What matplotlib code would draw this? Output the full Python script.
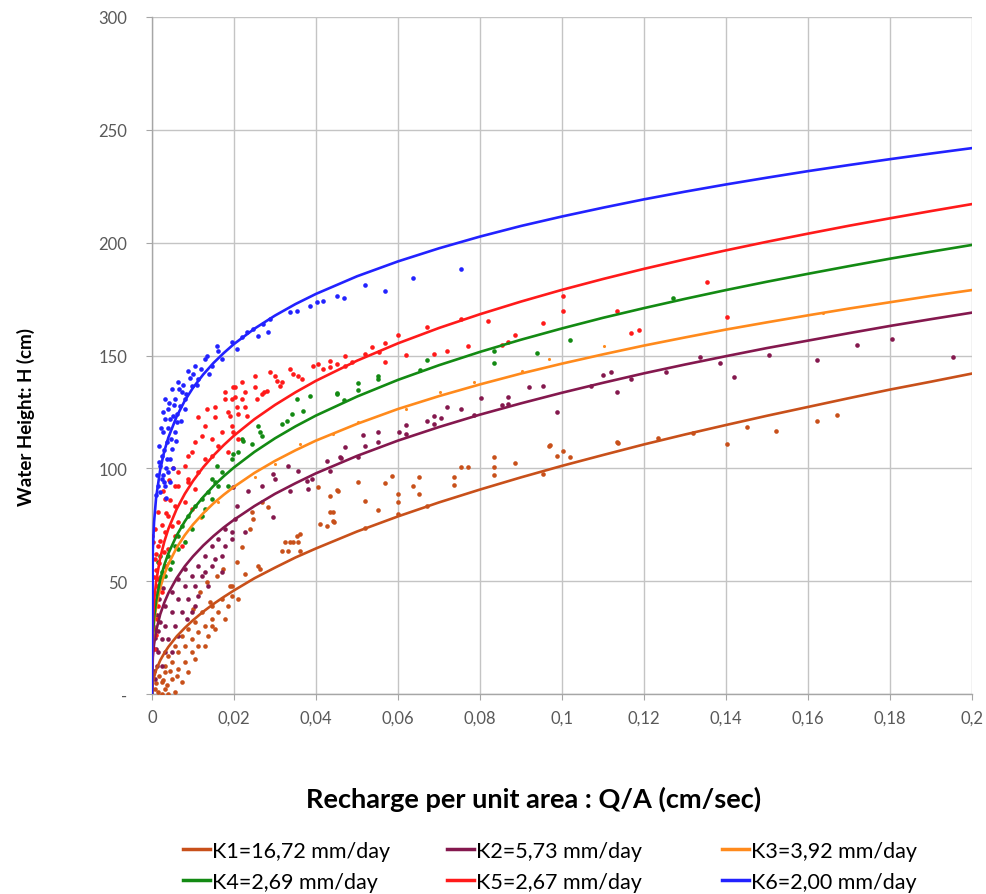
import matplotlib
matplotlib.use('Agg')
import matplotlib.pyplot as plt
from matplotlib.lines import Line2D

plt.rcParams['font.family'] = ['Lato', 'DejaVu Sans']

# series names and colours
labels = ['K1=16,72 mm/day', 'K2=5,73 mm/day', 'K3=3,92 mm/day',
          'K4=2,69 mm/day', 'K5=2,67 mm/day', 'K6=2,00 mm/day']
colors = ['#C8501A', '#84184E', '#FF8A1C', '#138A13', '#FF1A1A', '#2222FF']

# trend lines (power fits)
curve_x = [0, 0.0002, 0.0005, 0.001, 0.002, 0.003, 0.004, 0.006, 0.008, 0.01, 0.0125, 0.015,
           0.0175, 0.02, 0.025, 0.03, 0.035, 0.04, 0.05, 0.06, 0.07, 0.08, 0.09, 0.1, 0.11, 0.12,
           0.13, 0.14, 0.15, 0.16, 0.17, 0.18, 0.19, 0.2]
fit_k1 = [0, 4.8, 7.5, 10.6, 14.9, 18.1, 20.9, 25.5, 29.3, 32.7, 36.5, 39.9, 43.0, 45.9, 51.3, 56.0,
          60.5, 64.5, 72.0, 78.7, 84.9, 90.6, 96.0, 101.1, 105.9, 110.6, 115.0, 119.2, 123.3, 127.2,
          131.1, 134.9, 138.4, 142.0]
fit_k2 = [0, 16.2, 22.0, 27.9, 35.3, 40.5, 44.7, 51.3, 56.6, 61.0, 65.8, 70.0, 73.8, 77.2, 83.3, 88.7,
          93.4, 97.8, 105.5, 112.3, 118.3, 123.8, 128.8, 133.5, 137.9, 142.1, 146.0, 149.7, 153.3, 156.6,
          159.9, 163.1, 166.1, 169.0]
fit_k3 = [0, 24.2, 31.5, 38.5, 47.1, 53.0, 57.6, 64.8, 70.4, 75.1, 80.1, 84.5, 88.3, 91.8, 98.0, 103.3,
          108.0, 112.3, 119.7, 126.3, 132.0, 137.2, 142.0, 146.4, 150.5, 154.4, 158.0, 161.5, 164.7, 167.8,
          170.8, 173.6, 176.4, 179.0]
fit_k4 = [0, 25.6, 33.6, 41.2, 50.7, 57.2, 62.3, 70.2, 76.5, 81.8, 87.3, 92.2, 96.5, 100.4, 107.3, 113.3,
          118.6, 123.4, 131.8, 139.2, 145.7, 151.6, 157.0, 162.0, 166.7, 171.0, 175.1, 179.0, 182.7, 186.2,
          189.6, 192.9, 196.0, 199.0]
fit_k5 = [0, 31.8, 41.0, 49.8, 60.3, 67.5, 73.2, 81.9, 88.7, 94.4, 100.5, 105.7, 110.3, 114.5, 121.8, 128.1,
          133.7, 138.8, 147.7, 155.4, 162.2, 168.3, 173.9, 179.1, 183.9, 188.4, 192.6, 196.6, 200.4, 204.0,
          207.5, 210.8, 214.0, 217.1]
fit_k6 = [0, 63.8, 76.1, 87.0, 99.4, 107.6, 113.7, 122.9, 130.0, 135.7, 141.6, 146.7, 151.1, 155.1, 161.9,
          167.7, 172.8, 177.3, 185.1, 191.7, 197.5, 202.7, 207.4, 211.6, 215.5, 219.2, 222.6, 225.8, 228.8,
          231.7, 234.4, 237.0, 239.5, 241.9]

# measured points (Q/A, H)
k1_pts = [(0.0008, 2), (0.001, 5), (0.0018, 8), (0.0028, 6), (0.0036, 4), (0.0044, 10), (0.006, 8),
          (0.0015, 0.8), (0.0024, 0), (0.004, 0), (0.0024, 5.2), (0.0032, 2.2), (0.0056, 0.8),
          (0.0032, 9.6), (0.0048, 6.6), (0.0072, 5.2), (0.0048, 14.0), (0.004, 17.0), (0.0032, 12.5),
          (0.0064, 11.1), (0.0089, 9.6), (0.0064, 18.5), (0.0056, 21.4), (0.008, 14.0), (0.0105, 15.5),
          (0.008, 21.4), (0.0072, 25.8), (0.0097, 18.5), (0.0113, 21.4), (0.0129, 21.4), (0.0097, 24.4),
          (0.0089, 28.8), (0.0105, 31.8), (0.0113, 27.3), (0.0137, 25.8), (0.0154, 28.8), (0.0129, 30.3),
          (0.0146, 30.3), (0.0146, 33.2), (0.0121, 36.2), (0.0178, 33.2), (0.0162, 36.2), (0.0146, 39.1),
          (0.0186, 39.1), (0.017, 42.1), (0.021, 42.1), (0.0194, 43.6), (0.0101, 37.7), (0.0117, 45.0),
          (0.0141, 40.6), (0.0133, 49.5), (0.0158, 52.4), (0.0174, 55.4), (0.019, 48.0), (0.0194, 48.0),
          (0.0207, 58.4), (0.0219, 65.0), (0.0227, 53.2), (0.0239, 73.1), (0.0243, 80.5), (0.0247, 77.5),
          (0.0259, 56.8), (0.0263, 55.4), (0.0268, 84.9), (0.0284, 82.7), (0.0316, 63.5), (0.0324, 67.2),
          (0.0332, 63.5), (0.0337, 67.2), (0.0345, 67.2), (0.0353, 70.1), (0.0357, 67.2), (0.0361, 70.9),
          (0.0361, 63.5), (0.0406, 91.6), (0.041, 75.3), (0.0426, 74.6), (0.0434, 87.9), (0.0434, 80.5),
          (0.0442, 76.8), (0.0454, 90.1), (0.0441, 80.5), (0.0444, 76.3), (0.0452, 90.5), (0.0503, 93.8),
          (0.052, 85.6), (0.052, 73.4), (0.0552, 81.7), (0.0568, 93.5), (0.0585, 96.7), (0.0601, 88.6),
          (0.0601, 84.9), (0.0601, 79.8), (0.0636, 92.0), (0.0652, 96.3), (0.0652, 88.6), (0.067, 83.2),
          (0.0737, 96.0), (0.0737, 92.7), (0.0754, 100.7), (0.077, 100.7), (0.0835, 104.9), (0.0835, 100.4),
          (0.0835, 97.2), (0.0885, 102.3), (0.0954, 97.5), (0.0969, 110.0), (0.0971, 110.3), (0.0987, 105.3),
          (0.1003, 107.5), (0.102, 104.9), (0.1135, 111.5), (0.1136, 111.3), (0.1235, 113.3), (0.132, 115.5),
          (0.1403, 110.8), (0.1452, 118.3), (0.1521, 116.4), (0.1621, 120.8), (0.167, 123.8)]

k2_pts = [(0.0005, 10), (0.001, 20), (0.0015, 28), (0.002, 32), (0.0008, 25), (0.0012, 35), (0.0004, 40),
          (0.0003, 30), (0.0018, 42), (0.0028, 47),
          (0.0007, 6.6), (0.0011, 12.5), (0.0015, 18.5), (0.0024, 12.5), (0.0024, 24.4), (0.0032, 18.5),
          (0.0032, 30.3), (0.004, 24.4), (0.0048, 18.5), (0.0048, 36.2), (0.0032, 39.1), (0.0056, 30.3),
          (0.0064, 25.8), (0.0064, 42.1), (0.0048, 45.1), (0.0072, 36.2), (0.008, 48.0), (0.0085, 33.2),
          (0.0089, 42.1), (0.0064, 51.0), (0.0097, 52.4), (0.0097, 36.2), (0.008, 55.4), (0.0105, 48.0),
          (0.0105, 39.1), (0.0113, 56.8), (0.0113, 43.6), (0.0121, 52.4), (0.0129, 61.3), (0.0129, 53.9),
          (0.0137, 48.0), (0.0146, 65.7), (0.0146, 56.8), (0.0154, 59.8), (0.0162, 68.7), (0.017, 61.3),
          (0.017, 53.9), (0.0178, 73.1), (0.0178, 65.7), (0.0194, 68.7), (0.0202, 77.5), (0.0198, 91.6),
          (0.0194, 71.6), (0.0207, 83.4), (0.0227, 71.6), (0.0235, 90.1), (0.0268, 92.3), (0.0296, 97.5),
          (0.03, 95.3), (0.0296, 78.3), (0.0332, 101.2), (0.0337, 90.1), (0.0357, 98.9), (0.0377, 94.5),
          (0.0381, 90.8), (0.039, 95.3), (0.0426, 103.4), (0.0434, 98.9), (0.0459, 104.9), (0.0471, 109.3),
          (0.046, 104.4), (0.0503, 104.9), (0.0514, 114.8), (0.052, 110.0), (0.0552, 116.2), (0.0552, 111.5),
          (0.0603, 115.9), (0.062, 119.2), (0.062, 115.2), (0.067, 121.1), (0.0688, 123.3), (0.0688, 119.6),
          (0.0704, 122.1), (0.072, 127.3), (0.0754, 126.3), (0.0785, 123.6), (0.0802, 131.0), (0.0853, 128.2),
          (0.0869, 131.5), (0.0869, 128.5), (0.092, 135.9), (0.0953, 136.6), (0.0987, 125.1), (0.1071, 136.3),
          (0.1101, 141.3), (0.1119, 142.8), (0.1135, 133.7), (0.1168, 139.6), (0.1254, 142.8), (0.1337, 149.2),
          (0.1385, 146.7), (0.142, 140.6), (0.1505, 150.2), (0.1621, 147.8), (0.1719, 154.8), (0.1804, 157.3),
          (0.1953, 149.2)]

k3_pts = [(0.004, 58), (0.008, 68), (0.012, 78), (0.016, 85), (0.025, 96), (0.03, 102), (0.0361, 110.8),
          (0.0442, 115.2), (0.0503, 120.4), (0.062, 126.3), (0.0702, 133.9), (0.0785, 138.4), (0.0902, 143.2),
          (0.0969, 148.4), (0.1102, 154.3), (0.1636, 168.7)]

k4_pts = [(0.0015, 58.4), (0.002, 61.3), (0.0024, 53.9), (0.0032, 56.8), (0.0032, 52.4), (0.004, 61.3),
          (0.0044, 55.4), (0.0048, 58.4), (0.0056, 65.7), (0.0064, 70.1), (0.0064, 64.2), (0.0072, 74.6),
          (0.008, 67.2), (0.0089, 79.0), (0.0097, 73.1), (0.0105, 83.4), (0.0121, 86.4), (0.0121, 79.0),
          (0.0129, 82.0), (0.0137, 89.4), (0.0146, 86.4), (0.0146, 95.3), (0.0154, 93.8), (0.0158, 101.2),
          (0.0162, 92.3), (0.017, 98.2), (0.0186, 92.3), (0.0194, 104.1), (0.0198, 106.3), (0.021, 107.1),
          (0.0219, 113.0), (0.0223, 112.2), (0.0243, 110.8), (0.0259, 118.9), (0.0263, 115.9), (0.0268, 114.4),
          (0.0316, 119.6), (0.0329, 121.1), (0.0341, 124.1), (0.0353, 130.7), (0.0369, 125.5), (0.0385, 132.2),
          (0.045, 132.9), (0.0452, 133.4), (0.0468, 130.4), (0.0503, 137.8), (0.0503, 134.8), (0.0552, 140.8),
          (0.0552, 139.6), (0.0654, 143.7), (0.067, 148.1), (0.0835, 151.8), (0.0835, 146.7), (0.0938, 151.1),
          (0.102, 157.0), (0.127, 175.7)]

k5_pts = [(0.0005, 45), (0.001, 55), (0.001, 62), (0.002, 68), (0.0025, 75), (0.002, 52), (0.003, 63),
          (0.0035, 80), (0.0045, 86), (0.0005, 38), (0.0012, 48), (0.0018, 58), (0.0006, 20), (0.0009, 26),
          (0.0004, 52), (0.0028, 90), (0.0042, 95), (0.0052, 100),
          (0.0, 70.1), (0.0003, 67.2), (0.0007, 73.1), (0.0007, 59.8), (0.0007, 28.8), (0.0011, 33.2),
          (0.0015, 39.1), (0.0015, 51.0), (0.0015, 65.7), (0.0015, 80.5), (0.0024, 45.1), (0.0032, 56.8),
          (0.0032, 71.6), (0.0032, 86.4), (0.004, 64.2), (0.004, 79.0), (0.0048, 74.6), (0.0056, 70.1),
          (0.0056, 83.4), (0.0056, 92.3), (0.0064, 76.1), (0.0064, 92.3), (0.0064, 98.2), (0.0072, 65.7),
          (0.008, 84.9), (0.008, 101.2), (0.0089, 93.8), (0.0089, 95.3), (0.0089, 105.6), (0.0097, 82.0),
          (0.0097, 107.1), (0.0105, 90.8), (0.0105, 111.5), (0.0113, 98.2), (0.0113, 122.6), (0.0121, 114.4),
          (0.0129, 104.1), (0.0129, 118.9), (0.0133, 126.3), (0.0146, 105.6), (0.0146, 113.0), (0.0154, 122.6),
          (0.0154, 127.0), (0.0162, 110.0), (0.017, 115.9), (0.0178, 130.7), (0.0178, 133.7), (0.0186, 107.1),
          (0.0186, 124.8), (0.019, 123.3), (0.0194, 118.9), (0.0194, 130.7), (0.0198, 115.9), (0.0198, 135.9),
          (0.0202, 131.5), (0.0202, 135.9), (0.0207, 127.0), (0.021, 113.0), (0.021, 124.1), (0.0219, 130.7),
          (0.0219, 138.1), (0.0227, 133.7), (0.0227, 127.0), (0.0231, 123.3), (0.0251, 141.0), (0.0251, 135.9),
          (0.0255, 130.7), (0.0268, 132.9), (0.0272, 133.7), (0.028, 134.4), (0.0288, 142.5), (0.03, 141.0),
          (0.0304, 138.8), (0.0312, 136.6), (0.0316, 138.1), (0.0337, 144.0), (0.0345, 141.8), (0.0357, 141.0),
          (0.0365, 139.6), (0.0393, 145.5), (0.0406, 146.2), (0.0418, 144.0), (0.0434, 147.7), (0.0434, 144.7),
          (0.045, 146.2), (0.0471, 149.6), (0.0471, 145.5), (0.0487, 147.2), (0.052, 150.6), (0.0536, 153.6),
          (0.0554, 151.7), (0.0568, 155.5), (0.0568, 147.0), (0.0601, 159.1), (0.062, 150.3), (0.067, 162.5),
          (0.0688, 150.6), (0.0719, 151.8), (0.0754, 166.1), (0.077, 154.3), (0.082, 165.1), (0.0853, 154.6),
          (0.0869, 156.1), (0.0885, 159.1), (0.0953, 164.4), (0.1003, 176.2), (0.1003, 169.8), (0.1135, 169.8),
          (0.1168, 160.0), (0.1188, 161.4), (0.1353, 182.4), (0.1403, 166.9)]

k6_pts = [(0.001, 88), (0.0012, 97), (0.0015, 92), (0.0016, 103), (0.0018, 110), (0.002, 89.4),
          (0.002, 101.2), (0.0022, 118), (0.0024, 95.3), (0.0024, 105.6), (0.0026, 125), (0.0028, 115.9),
          (0.0028, 97), (0.003, 94), (0.003, 108), (0.0032, 92.3), (0.0032, 121.8), (0.0032, 130.7),
          (0.0034, 100), (0.0035, 87), (0.0036, 111.5), (0.0036, 104), (0.0038, 118), (0.004, 98.2),
          (0.004, 126.3), (0.0042, 129), (0.0044, 104.1), (0.0044, 122), (0.0045, 94), (0.0046, 113),
          (0.0048, 108.6), (0.0048, 135.1), (0.005, 100), (0.0052, 123.3), (0.0054, 128), (0.0056, 115.9),
          (0.0056, 130.7), (0.0058, 112), (0.006, 120.4), (0.0062, 124), (0.0064, 138.1), (0.0066, 135),
          (0.0068, 127.7), (0.007, 121), (0.0072, 133.7), (0.0076, 137), (0.008, 126.3), (0.008, 130.7),
          (0.0084, 133), (0.0089, 143.2), (0.0092, 140), (0.0097, 136.6), (0.01, 142), (0.0105, 145.5),
          (0.011, 137), (0.0113, 139.6), (0.012, 144), (0.0129, 148.4), (0.0135, 150), (0.014, 142),
          (0.0146, 145.5), (0.0158, 154.3), (0.0162, 152.1), (0.017, 148.4), (0.0194, 155.8), (0.0207, 152.9),
          (0.0219, 158.0), (0.0231, 160.3), (0.0247, 161.7), (0.0259, 158.8), (0.0271, 163.9), (0.0284, 160.3),
          (0.0288, 166.1), (0.0337, 169.1), (0.0353, 169.8), (0.0385, 172.0), (0.0402, 173.6), (0.0418, 174.3),
          (0.0451, 176.3), (0.0468, 175.4), (0.052, 181.2), (0.0568, 178.6), (0.0637, 184.3), (0.0754, 188.3)]

x_ticks = [0, 0.02, 0.04, 0.06, 0.08, 0.1, 0.12, 0.14, 0.16, 0.18, 0.2]
x_ticklabels = ['0', '0,02', '0,04', '0,06', '0,08', '0,1', '0,12', '0,14', '0,16', '0,18', '0,2']
y_ticks = [0, 50, 100, 150, 200, 250, 300]
y_ticklabels = ['-', '50', '100', '150', '200', '250', '300']

fig = plt.figure(figsize=(9.86, 8.95), dpi=100)
ax = fig.add_axes([152 / 986, 200 / 895, 820 / 986, 677 / 895])

all_pts = [k1_pts, k2_pts, k3_pts, k4_pts, k5_pts, k6_pts]
all_fits = [fit_k1, fit_k2, fit_k3, fit_k4, fit_k5, fit_k6]
sizes = [11, 11, 5, 11, 11, 11]

# points first, trend lines on top
for pts, c, s in zip(all_pts, colors, sizes):
    ax.scatter([p[0] for p in pts], [p[1] for p in pts], s=s, color=c, linewidths=0, zorder=3)
for fit, c in zip(all_fits, colors):
    ax.plot(curve_x, fit, color=c, linewidth=1.9, zorder=4)

ax.set_xlim(0, 0.2)
ax.set_ylim(0, 300)
ax.set_xticks(x_ticks)
ax.set_xticklabels(x_ticklabels)
ax.set_yticks(y_ticks)
ax.set_yticklabels(y_ticklabels)
ax.grid(True, color='#C4C4C4', linewidth=1.0)
ax.set_axisbelow(True)
for side in ['top', 'right']:
    ax.spines[side].set_visible(False)
for side in ['left', 'bottom']:
    ax.spines[side].set_color('#A6A6A6')
    ax.spines[side].set_linewidth(1.0)
ax.tick_params(axis='both', colors='#A6A6A6', labelcolor='#595959', labelsize=12, length=4, direction='out')
ax.tick_params(axis='x', pad=7)
ax.tick_params(axis='y', pad=14)

ax.set_ylabel('Water Height: H (cm)', fontsize=13.5, fontweight='bold')
ax.yaxis.set_label_coords(-0.143, 0.41)
ax.set_xlabel('Recharge per unit area : Q/A (cm/sec)', fontsize=19.5, fontweight='bold')
ax.xaxis.set_label_coords(0.465, -0.135)

# legend: three fixed columns, rows K1 K2 K3 / K4 K5 K6 like the original
col_left = [183 / 986, 447 / 986, 722 / 986]
for j, x0 in enumerate(col_left):
    idx = [j, j + 3]
    handles = [Line2D([0], [0], color=colors[i], linewidth=2.5) for i in idx]
    fig.legend(handles, [labels[i] for i in idx], loc='upper left', bbox_to_anchor=(x0, 0.0595),
               frameon=False, fontsize=15.5, handlelength=1.25, handletextpad=0.12,
               labelspacing=0.52, borderpad=0, borderaxespad=0)

fig.savefig('out.png', dpi=100)
